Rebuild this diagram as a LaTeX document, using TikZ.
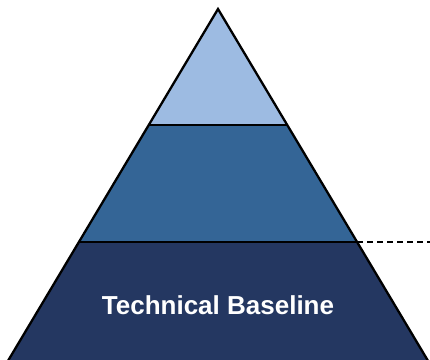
\documentclass[tikz,border=0pt]{standalone}
\usepackage{fontspec}
\setmainfont{Liberation Sans}
\usetikzlibrary{positioning}

\definecolor{tierTop}{RGB}{157,187,226}
\definecolor{tierMid}{RGB}{52,101,150}
\definecolor{tierBase}{RGB}{36,55,97}

\begin{document}
\begin{tikzpicture}[
        x=1pt, y=-1pt,
        line width=2.3pt, line join=miter,
        tier/.style={draw=black},
        label/.style={text=white, font=\fontsize{26}{30}\selectfont\bfseries, inner sep=0pt}
    ]
    \useasboundingbox (0,0) rectangle (430,359);
    \clip (0,0) rectangle (430,359);

    % Nodes
    \coordinate (apex) at (218,9);
    \coordinate (midL) at (148.7,125);
    \coordinate (midR) at (287.3,125);
    \coordinate (lowL) at (78.9,242);
    \coordinate (lowR) at (357.1,242);
    \coordinate (baseL) at (2.5,370);
    \coordinate (baseR) at (433.5,370);
    \coordinate (dashEnd) at (432,242);

    \fill[tierBase] (lowL) -- (lowR) -- (baseR) -- (baseL) -- cycle;
    \fill[tierMid] (midL) -- (midR) -- (lowR) -- (lowL) -- cycle;
    \fill[tierTop] (apex) -- (midR) -- (midL) -- cycle;

    \draw[tier] (baseL) -- (apex) -- (baseR);
    \draw[tier] (midL) -- (midR);
    \draw[tier] (lowL) -- (lowR);

    \node[label] (baseline) at (218,305) {Technical Baseline};

    % Edges
    \draw[dashed, dash pattern=on 6pt off 4pt] (lowR) -- (dashEnd);
\end{tikzpicture}
\end{document}
